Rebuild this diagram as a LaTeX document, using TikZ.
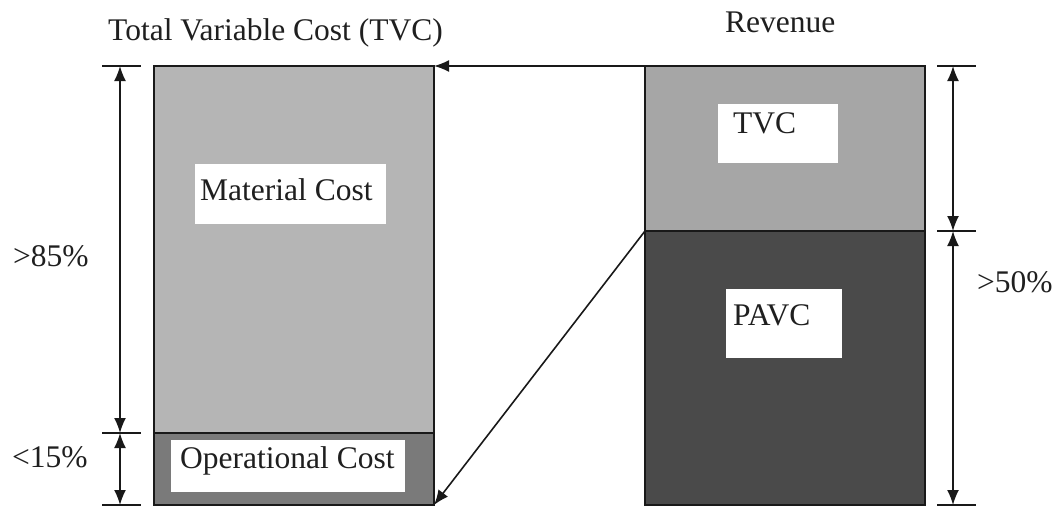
\documentclass[tikz,border=0pt]{standalone}
\usepackage{fontspec}
\setmainfont{Liberation Serif}
\usetikzlibrary{arrows.meta}
\begin{document}
\begin{tikzpicture}[x=1pt,y=-1pt,
  seg/.style={draw=black!90,line width=2.6pt,inner sep=0pt,outer sep=0pt,anchor=north west},
  lab/.style={fill=white,inner sep=0pt,outer sep=0pt,anchor=north west},
  txt/.style={inner sep=0pt,anchor=base west,font=\fontsize{31.5}{36}\selectfont,text=black!88},
  tick/.style={line width=2.2pt,draw=black!90},
  dim/.style={line width=1.6pt,draw=black!90,{Latex[length=15pt,width=12pt]}-{Latex[length=15pt,width=12pt]}},
  conn/.style={line width=1.6pt,draw=black!90,-{Latex[length=15pt,width=12pt]}}]
\useasboundingbox (0,0) rectangle (1060,509);
% left column
\node[seg,fill=black!29,minimum width=280pt,minimum height=367pt] (mat) at (154,66) {};
\node[seg,fill=black!52,minimum width=280pt,minimum height=72pt] (ope) at (154,433) {};
% right column
\node[seg,fill=black!35,minimum width=280pt,minimum height=165pt] (tvc) at (645,66) {};
\node[seg,fill=black!71,minimum width=280pt,minimum height=274pt] (pavc) at (645,231) {};
% white label boxes
\node[lab,minimum width=191pt,minimum height=60pt] (matl) at (195,164) {};
\node[lab,minimum width=234pt,minimum height=52pt] (opel) at (171,440) {};
\node[lab,minimum width=120pt,minimum height=59pt] (tvcl) at (718,104) {};
\node[lab,minimum width=116pt,minimum height=69pt] (pavcl) at (726,289) {};
% texts
\node[txt] (t1) at (200,200) {Material Cost};
\node[txt] (t2) at (180,468) {Operational Cost};
\node[txt] (t3) at (733,133) {TVC};
\node[txt] (t4) at (733,325) {PAVC};
\node[txt] (t5) at (108,40) {Total Variable Cost (TVC)};
\node[txt] (t6) at (725,32) {Revenue};
\node[txt] (t7) at (13,266) {>85\%};
\node[txt] (t8) at (12,467) {<15\%};
\node[txt] (t9) at (977,292) {>50\%};
% dimension coordinates
\coordinate (l1) at (120,66); \coordinate (l2) at (120,433); \coordinate (l3) at (120,505);
\coordinate (r1) at (953,66); \coordinate (r2) at (953,231); \coordinate (r3) at (953,505);
\draw[tick] (102,66) -- (141,66);
\draw[tick] (102,433) -- (141,433);
\draw[tick] (102,505) -- (141,505);
\draw[tick] (937,66) -- (976,66);
\draw[tick] (937,231) -- (976,231);
\draw[tick] (937,505) -- (976,505);
\draw[dim] (l1) -- (l2);
\draw[dim] (l2) -- (l3);
\draw[dim] (r1) -- (r2);
\draw[dim] (r2) -- (r3);
% connectors
\draw[conn] (tvc.north west) -- (mat.north east);
\draw[conn] (pavc.north west) -- (ope.south east);
\end{tikzpicture}
\end{document}
